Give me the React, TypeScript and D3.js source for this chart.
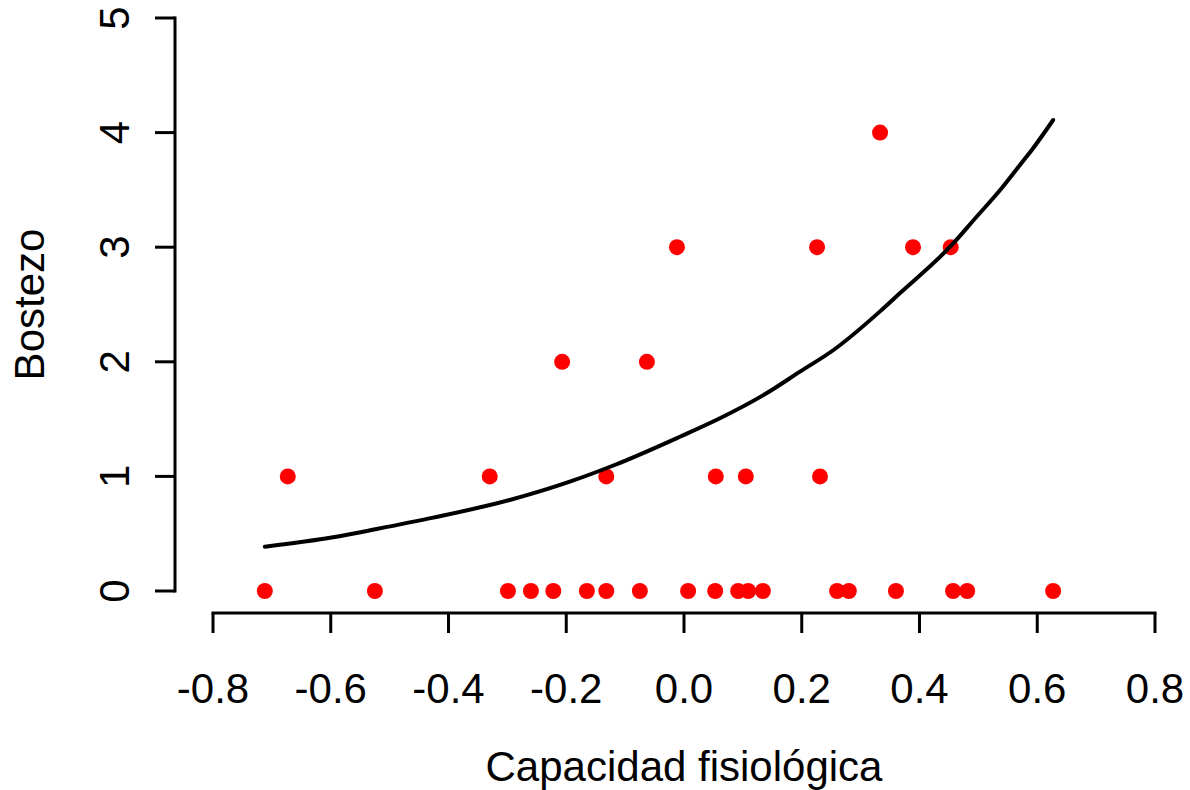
import React from "react";
import * as d3 from "d3";

// Observed counts: physiological capacity vs. number of yawns
const capacidad: number[] = [
  -0.712, -0.525, -0.299, -0.26, -0.222, -0.165, -0.132, -0.075, 0.007, 0.053,
  0.092, 0.109, 0.134, 0.26, 0.28, 0.36, 0.457, 0.481, 0.627,
  -0.673, -0.33, -0.132, 0.054, 0.105, 0.231,
  -0.207, -0.063,
  -0.012, 0.226, 0.389, 0.453,
  0.333,
];
const bostezo: number[] = [
  0, 0, 0, 0, 0, 0, 0, 0, 0, 0, 0, 0, 0, 0, 0, 0, 0, 0, 0,
  1, 1, 1, 1, 1, 1,
  2, 2,
  3, 3, 3, 3,
  4,
];

// Fitted curve (predicted mean count)
const ajusteX: number[] = [
  -0.712, -0.596, -0.522, -0.426, -0.296, -0.194, -0.12, -0.007, 0.061, 0.14,
  0.197, 0.254, 0.333, 0.367, 0.452, 0.497, 0.537, 0.571, 0.591, 0.627,
];
const ajusteY: number[] = [
  0.387, 0.469, 0.541, 0.64, 0.794, 0.954, 1.095, 1.346, 1.507, 1.725,
  1.914, 2.103, 2.44, 2.6, 3.004, 3.266, 3.499, 3.72, 3.85, 4.11,
];

const xTicks: number[] = [-0.8, -0.6, -0.4, -0.2, 0.0, 0.2, 0.4, 0.6, 0.8];
const yTicks: number[] = [0, 1, 2, 3, 4, 5];

const W = 1190;
const H = 790;
const FONT = "'Liberation Sans', Arial, Helvetica, sans-serif";

export default function App() {
  const x = d3.scaleLinear().domain([-0.8, 0.8]).range([213, 1155]);
  const y = d3.scaleLinear().domain([0, 5]).range([591, 18]);

  const axisY = 613;
  const axisX = 175;
  const tickLen = 20;

  const line = d3
    .line<number>()
    .x((_, i) => x(ajusteX[i]))
    .y((_, i) => y(ajusteY[i]))
    .curve(d3.curveMonotoneX);

  return (
    <svg
      width={W}
      height={H}
      viewBox={`0 0 ${W} ${H}`}
      style={{ position: "absolute", left: 0, top: 0, display: "block", background: "#fff" }}
      fontFamily={FONT}
    >
      <rect x={0} y={0} width={W} height={H} fill="#fff" />

      {/* x axis */}
      <line x1={x(-0.8)} x2={x(0.8)} y1={axisY} y2={axisY} stroke="#000" strokeWidth={3} strokeLinecap="square" />
      {xTicks.map((t) => (
        <g key={`xt${t}`}>
          <line x1={x(t)} x2={x(t)} y1={axisY} y2={axisY + tickLen} stroke="#000" strokeWidth={3} />
          <text x={x(t)} y={703} textAnchor="middle" fontSize={42} fill="#000">
            {t.toFixed(1)}
          </text>
        </g>
      ))}
      <text x={684} y={781} textAnchor="middle" fontSize={42} fill="#000">
        Capacidad fisiológica
      </text>

      {/* y axis */}
      <line x1={axisX} x2={axisX} y1={y(0)} y2={y(5)} stroke="#000" strokeWidth={3} strokeLinecap="square" />
      {yTicks.map((t) => (
        <g key={`yt${t}`}>
          <line x1={axisX - tickLen} x2={axisX} y1={y(t)} y2={y(t)} stroke="#000" strokeWidth={3} />
          <text
            transform={`translate(129, ${y(t)}) rotate(-90)`}
            textAnchor="middle"
            fontSize={42}
            fill="#000"
          >
            {t}
          </text>
        </g>
      ))}
      <text
        transform={`translate(44, ${y(2.5)}) rotate(-90)`}
        textAnchor="middle"
        fontSize={42}
        fill="#000"
      >
        Bostezo
      </text>

      {/* observations */}
      {capacidad.map((c, i) => (
        <circle key={`p${i}`} cx={x(c)} cy={y(bostezo[i])} r={8} fill="#ff0000" />
      ))}

      {/* fitted curve */}
      <path d={line(ajusteX) ?? ""} fill="none" stroke="#000" strokeWidth={4} strokeLinejoin="round" strokeLinecap="round" />
    </svg>
  );
}
